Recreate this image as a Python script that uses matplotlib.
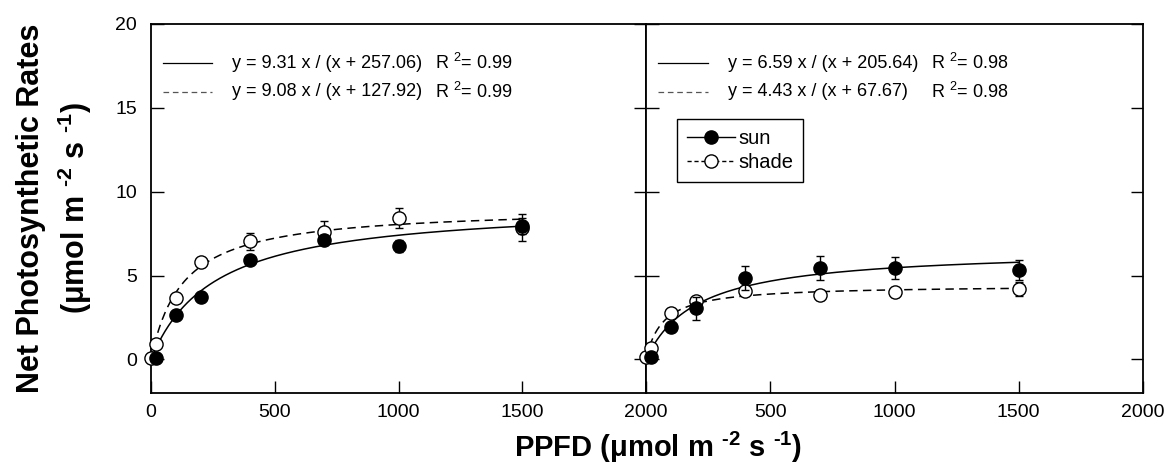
import numpy as np
import matplotlib
matplotlib.use("Agg")
import matplotlib.pyplot as plt
from matplotlib.lines import Line2D

plt.rcParams['font.family'] = ['Liberation Sans', 'DejaVu Sans']
plt.rcParams['mathtext.fontset'] = 'custom'
plt.rcParams['mathtext.rm'] = 'Liberation Sans:bold'
plt.rcParams['mathtext.bf'] = 'Liberation Sans:bold'
plt.rcParams['mathtext.default'] = 'regular'

# ---------------- data ----------------
x_sun = [20, 100, 200, 400, 700, 1000, 1500]
x_shade = [0, 20, 100, 200, 400, 700, 1000, 1500]

# left panel
sunL = [0.1, 2.65, 3.75, 5.95, 7.1, 6.75, 7.95]
sunL_err = [0.05, 0.15, 0.15, 0.2, 0.3, 0.35, 0.5]
shadeL = [0.1, 0.95, 3.65, 5.8, 7.05, 7.6, 8.45, 7.85]
shadeL_err = [0.0, 0.1, 0.2, 0.2, 0.5, 0.65, 0.6, 0.8]
fitL = {'sun': (9.31, 257.06), 'shade': (9.08, 127.92)}
eqL = ["y = 9.31 x / (x + 257.06)", "y = 9.08 x / (x + 127.92)"]
r2L = ["R $^2$= 0.99", "R $^2$= 0.99"]

# right panel
sunR = [0.15, 1.95, 3.05, 4.85, 5.45, 5.45, 5.35]
sunR_err = [0.05, 0.15, 0.7, 0.7, 0.7, 0.65, 0.6]
shadeR = [0.12, 0.66, 2.75, 3.5, 4.1, 3.85, 4.0, 4.2]
shadeR_err = [0.0, 0.1, 0.15, 0.15, 0.2, 0.3, 0.25, 0.4]
fitR = {'sun': (6.59, 205.64), 'shade': (4.43, 67.67)}
eqR = ["y = 6.59 x / (x + 205.64)", "y = 4.43 x / (x + 67.67)"]
r2R = ["R $^2$= 0.98", "R $^2$= 0.98"]

xticks = [0, 500, 1000, 1500, 2000]
xlabelsL = ["0", "500", "1000", "1500", "2000"]
xlabelsR = ["", "500", "1000", "1500", "2000"]
yticks = [0, 5, 10, 15, 20]

W, H = 1166, 474
fig = plt.figure(figsize=(W / 100, H / 100), dpi=100)
ax1 = fig.add_axes([151 / W, 1 - 393 / H, 495 / W, 369 / H])
ax2 = fig.add_axes([646 / W, 1 - 393 / H, 497 / W, 369 / H])

xfit = np.linspace(0, 1500, 400)
ms = 9.5


def panel(ax, sun, sun_err, shade, shade_err, fit, eqs, r2s, xlabels, ylabels):
    a, b = fit['sun']
    ax.plot(xfit, a * xfit / (xfit + b), color='black', lw=1.1, zorder=2)
    a, b = fit['shade']
    ax.plot(xfit, a * xfit / (xfit + b), color='black', lw=1.1, ls=(0, (5.5, 3.5)), zorder=2)
    ax.errorbar(x_shade, shade, yerr=shade_err, fmt='o', ms=ms, mfc='white', mec='black',
                mew=1.0, ecolor='black', elinewidth=1.0, capsize=3, capthick=1.0, zorder=3,
                clip_on=False)
    ax.errorbar(x_sun, sun, yerr=sun_err, fmt='o', ms=ms, mfc='black', mec='black',
                mew=1.0, ecolor='black', elinewidth=1.0, capsize=3, capthick=1.0, zorder=4,
                clip_on=False)
    ax.set_xlim(0, 2000)
    ax.set_ylim(-2, 20)
    ax.set_xticks(xticks)
    ax.set_xticklabels(xlabels)
    ax.set_yticks(yticks)
    if ylabels:
        ax.set_yticklabels([str(v) for v in yticks])
    else:
        ax.set_yticklabels([])
    ax.tick_params(axis='both', direction='in', length=9, width=1.0, labelsize=14)
    ax.tick_params(axis='y', right=True, pad=10)
    ax.tick_params(axis='x', pad=8)
    for s in ax.spines.values():
        s.set_linewidth(1.3)
    # equation legend
    ys = [0.894, 0.817]
    styles = ['-', (0, (4.5, 3))]
    colors = ['black', '#555555']
    for yy, st, c, eq, r2 in zip(ys, styles, colors, eqs, r2s):
        ax.plot([0.025, 0.124], [yy, yy], transform=ax.transAxes, color=c,
                lw=0.9, ls=st, clip_on=False)
        ax.text(0.164, yy, eq, transform=ax.transAxes, fontsize=13, va='center', ha='left')
        ax.text(0.574, yy, r2, transform=ax.transAxes, fontsize=13, va='center', ha='left')


panel(ax1, sunL, sunL_err, shadeL, shadeL_err, fitL, eqL, r2L, xlabelsL, True)
panel(ax2, sunR, sunR_err, shadeR, shadeR_err, fitR, eqR, r2R, xlabelsR, False)

handles = [
    Line2D([], [], color='black', lw=1.0, marker='o', ms=ms, mfc='black', mec='black'),
    Line2D([], [], color='black', lw=1.0, ls=(0, (3, 2)), marker='o', ms=ms, mfc='white', mec='black'),
]
leg = ax2.legend(handles, ['sun', 'shade'], loc='upper left', bbox_to_anchor=(0.0615, 0.7425),
                 borderaxespad=0, fontsize=14.5, handlelength=2.4, handletextpad=0.17,
                 labelspacing=0.25, borderpad=0.5, fancybox=False, framealpha=1,
                 edgecolor='black')
leg.get_frame().set_linewidth(1.0)

fig.text(55 / W, 1 - 208 / H,
         "Net Photosynthetic Rates\n(\u03bcmol m $^{\\text{-2}}$ s $^{\\text{-1}}$)",
         rotation=90, ha='center', va='center', fontsize=22, fontweight='bold',
         multialignment='center', linespacing=1.3)
fig.text(658 / W, 1 - 447 / H, "PPFD (\u03bcmol m $^{\\text{-2}}$ s $^{\\text{-1}}$)",
         ha='center', va='center', fontsize=21, fontweight='bold')

fig.savefig("out.png", dpi=100)
